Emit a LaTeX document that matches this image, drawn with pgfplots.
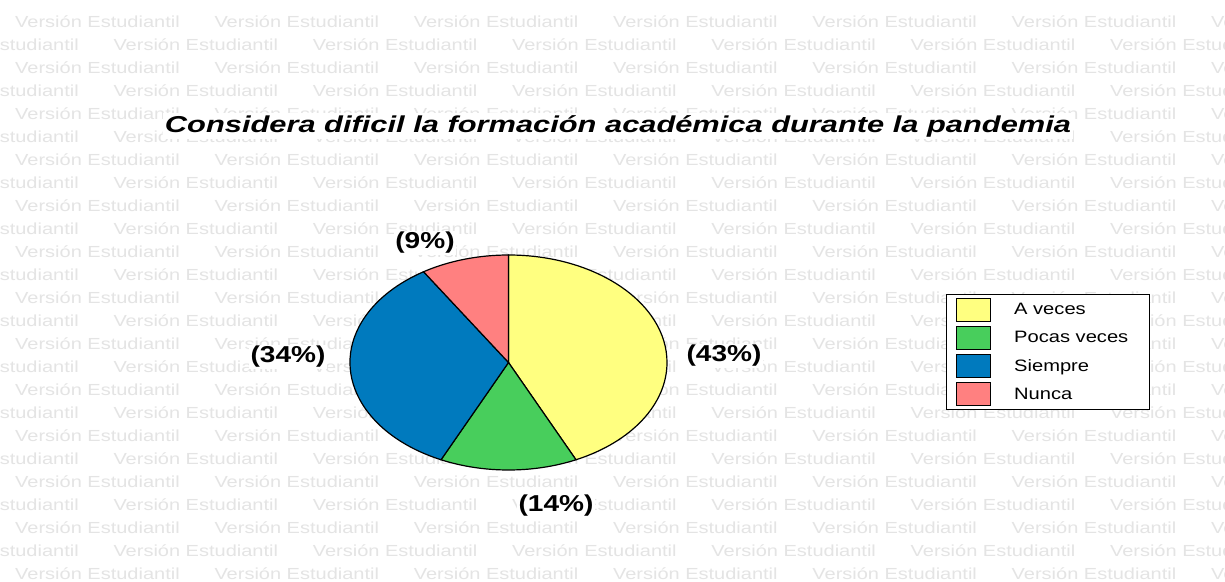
\documentclass[border=0pt]{standalone}
\usepackage{fontspec}
\setmainfont{Liberation Sans}[FakeStretch=1.22]
\newfontfamily\titlefont{Liberation Sans}[FakeStretch=1.34]
\newfontfamily\wmfont{Liberation Sans}[FakeStretch=1.25]
\usepackage{pgfplots}
\pgfplotsset{compat=1.18}
\definecolor{cA}{RGB}{255,255,128}
\definecolor{cP}{RGB}{72,206,92}
\definecolor{cS}{RGB}{0,122,190}
\definecolor{cN}{RGB}{255,128,128}
\definecolor{wm}{RGB}{228,228,228}
% data (percentages)
\def\pA{43}\def\pP{14}\def\pS{34}\def\pN{9}
\begin{document}
\begin{tikzpicture}
\begin{scope}[x=1pt,y=1pt]
\fill[white] (0,0) rectangle (1225,581);
\clip (0,0) rectangle (1225,581);
\foreach \r in {0,...,24}{
  \pgfmathsetmacro{\yy}{581-27.7-23*\r}
  \pgfmathsetmacro{\xs}{mod(\r,2)==1 ? -86 : 15}
  \foreach \c in {0,...,6}{
    \node[anchor=base west, inner sep=0pt, text=wm, font=\wmfont\fontsize{16}{16}\selectfont] at (\xs+199.3*\c, \yy) {Versión Estudiantil};
  }
}
\end{scope}
\pgfmathsetmacro{\aA}{90-3.6*\pA}
\pgfmathsetmacro{\aP}{\aA-3.6*\pP}
\pgfmathsetmacro{\aS}{\aP-3.6*\pS}
\pgfmathsetmacro{\aN}{\aS-3.6*\pN}
\begin{axis}[at={(508.5pt,218.5pt)}, anchor=origin, scale only axis,
  width=317pt, height=215pt, xmin=-1, xmax=1, ymin=-1, ymax=1,
  hide axis, clip=false,
  legend image code/.code={\filldraw[#1, draw=black, line width=1.2pt] (0pt,-11.5pt) rectangle (34pt,11.5pt); \path[draw=none, fill=none] (0pt,0pt) rectangle (58pt,0pt);},
  legend cell align=left,
  legend style={at={(1.880,0.8186)}, anchor=north west, draw=black, line width=1.2pt, fill=white,
    inner xsep=9pt, inner ysep=3pt, row sep=4pt,
    font=\fontsize{16.5}{17}\selectfont, nodes={inner sep=0pt}},
]
\addlegendimage{fill=cA}\addlegendentry{\makebox[126pt][l]{A veces}}
\addlegendimage{fill=cP}\addlegendentry{\makebox[126pt][l]{Pocas veces}}
\addlegendimage{fill=cS}\addlegendentry{\makebox[126pt][l]{Siempre}}
\addlegendimage{fill=cN}\addlegendentry{\makebox[126pt][l]{Nunca}}
\filldraw[fill=cA, draw=black, line width=1.2pt] (axis cs:0,0) -- (axis cs:0,1) arc[start angle=90, end angle=\aA, radius=1] -- cycle;
\filldraw[fill=cP, draw=black, line width=1.2pt] (axis cs:0,0) -- (axis cs:{cos(\aA)},{sin(\aA)}) arc[start angle=\aA, end angle=\aP, radius=1] -- cycle;
\filldraw[fill=cS, draw=black, line width=1.2pt] (axis cs:0,0) -- (axis cs:{cos(\aP)},{sin(\aP)}) arc[start angle=\aP, end angle=\aS, radius=1] -- cycle;
\filldraw[fill=cN, draw=black, line width=1.2pt] (axis cs:0,0) -- (axis cs:{cos(\aS)},{sin(\aS)}) arc[start angle=\aS, end angle=\aN, radius=1] -- cycle;
\end{axis}
\begin{scope}[x=1pt,y=1pt]
\begin{scope}[every node/.style={fill=white, inner sep=1.5pt, font=\fontsize{23}{23}\selectfont\bfseries}]
\node at (425,338) {(9\%)};
\node at (288,224) {(34\%)};
\node at (556,75) {(14\%)};
\node at (724,225) {(43\%)};
\end{scope}
\node[fill=white, inner sep=2pt, font=\titlefont\fontsize{23}{23}\selectfont\bfseries\itshape] at (618,455) {Considera dificil la formación académica durante la pandemia};
\end{scope}
\pgfresetboundingbox
\useasboundingbox (0pt,0pt) rectangle (1225pt,581pt);
\end{tikzpicture}
\end{document}
